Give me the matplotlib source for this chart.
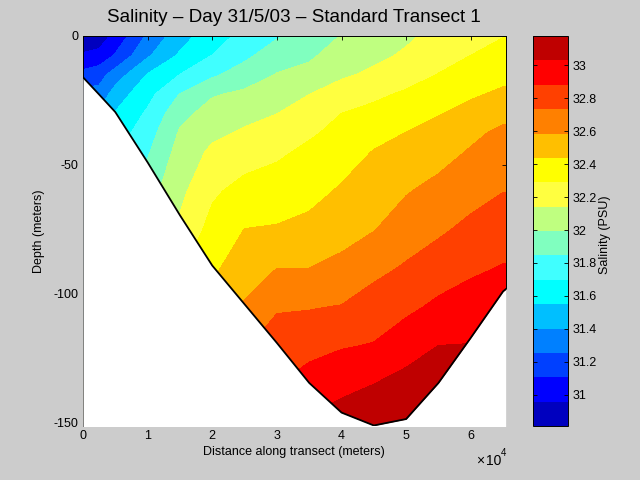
import numpy as np
import matplotlib
matplotlib.use('agg')
import matplotlib.pyplot as plt

plt.rcParams['font.family'] = ['Liberation Sans', 'DejaVu Sans']

GREY = '#CCCCCC'
W, H = 640.0, 480.0

distance = [0, 2500, 5000, 10000, 15000, 20000, 25000, 30000, 35000, 40000, 45000,
            50000, 55000, 60000, 65000, 65500]
depth = [0, -7.5, -15, -22.5, -30, -37.5, -45, -60, -75, -90, -105, -120, -135, -150, -165]
bottom = [-16, -22.7, -29.5, -49, -69.5, -89, -104, -119, -134.5, -146, -151,
          -148.5, -134.5, -117, -99, -98]

# one row per station (values under the sea bed only fill the grid)
salinity = [
    [30.83, 30.98, 31.15, 31.30, 31.40, 31.48, 31.55, 31.65, 31.75, 31.85, 31.95, 32.05, 32.15, 32.25, 32.35],
    [30.88, 31.00, 31.20, 31.30, 31.42, 31.52, 31.60, 31.70, 31.80, 31.90, 32.00, 32.10, 32.20, 32.30, 32.40],
    [31.00, 31.12, 31.32, 31.47, 31.56, 31.62, 31.68, 31.78, 31.88, 31.98, 32.08, 32.18, 32.28, 32.38, 32.48],
    [31.28, 31.38, 31.56, 31.65, 31.72, 31.78, 31.83, 31.93, 32.03, 32.13, 32.23, 32.33, 32.43, 32.53, 32.63],
    [31.49, 31.57, 31.70, 31.85, 31.95, 32.01, 32.05, 32.105, 32.17, 32.27, 32.37, 32.47, 32.57, 32.67, 32.77],
    [31.63, 31.70, 31.82, 31.98, 32.05, 32.11, 32.17, 32.265, 32.34, 32.41, 32.50, 32.60, 32.70, 32.80, 32.90],
    [31.74, 31.81, 31.92, 32.02, 32.10, 32.16, 32.22, 32.34, 32.44, 32.52, 32.60, 32.72, 32.82, 32.92, 33.02],
    [31.83, 31.93, 32.00, 32.07, 32.14, 32.20, 32.265, 32.36, 32.45, 32.586, 32.72, 32.80, 32.88, 32.98, 33.08],
    [31.91, 31.97, 32.04, 32.14, 32.205, 32.27, 32.32, 32.39, 32.48, 32.586, 32.725, 32.83, 32.95, 33.05, 33.15],
    [32.00, 32.06, 32.12, 32.21, 32.29, 32.33, 32.37, 32.455, 32.53, 32.625, 32.74, 32.87, 32.99, 33.10, 33.17],
    [32.06, 32.11, 32.17, 32.26, 32.33, 32.39, 32.445, 32.51, 32.58, 32.695, 32.80, 32.89, 33.03, 33.13, 33.17],
    [32.12, 32.16, 32.23, 32.31, 32.385, 32.44, 32.49, 32.575, 32.66, 32.75, 32.85, 32.965, 33.08, 33.16, 33.17],
    [32.18, 32.23, 32.295, 32.37, 32.43, 32.49, 32.53, 32.63, 32.71, 32.81, 32.91, 33.03, 33.12, 33.17, 33.17],
    [32.24, 32.29, 32.35, 32.42, 32.48, 32.55, 32.60, 32.68, 32.77, 32.86, 32.94, 33.035, 33.06, 33.10, 33.12],
    [32.285, 32.34, 32.40, 32.46, 32.54, 32.62, 32.65, 32.73, 32.82, 32.89, 32.96, 33.00, 33.02, 33.02, 33.02],
    [32.285, 32.34, 32.40, 32.46, 32.54, 32.62, 32.65, 32.73, 32.82, 32.89, 32.96, 33.00, 33.02, 33.02, 33.02],
]

levels = [30.81, 30.958, 31.106, 31.254, 31.402, 31.55, 31.698, 31.846, 31.994,
          32.142, 32.29, 32.438, 32.586, 32.734, 32.882, 33.03, 33.18]
band_colors = [(0, 0, .75), (0, 0, 1), (0, .25, 1), (0, .5, 1), (0, .75, 1), (0, 1, 1),
               (.25, 1, 1), (.5, 1, .75), (.75, 1, .5), (1, 1, .25), (1, 1, 0),
               (1, .75, 0), (1, .5, 0), (1, .25, 0), (1, 0, 0), (.75, 0, 0)]
cbar_ticks = [31, 31.2, 31.4, 31.6, 31.8, 32, 32.2, 32.4, 32.6, 32.8, 33]


def box(x0, y0, x1, y1):
    # pixel box (y from the top) to figure fractions
    return [x0 / W, 1 - y1 / H, (x1 - x0) / W, (y1 - y0) / H]


fig = plt.figure(figsize=(6.4, 4.8), dpi=100, facecolor=GREY)
ax = fig.add_axes(box(83, 36, 506, 426))

cs = ax.contourf(distance, depth, np.array(salinity).T, levels=levels, colors=band_colors)
ax.fill_between(distance, bottom, -200, color='white', zorder=3, lw=0)
ax.plot(distance, bottom, color='black', lw=1.3, zorder=4, solid_joinstyle='round')

ax.set_xlim(0, 65450)
ax.set_ylim(-151.2, 0)
ax.set_xticks([0, 10000, 20000, 30000, 40000, 50000, 60000])
ax.set_xticklabels(['0', '1', '2', '3', '4', '5', '6'])
ax.set_yticks([0, -50, -100, -150])
ax.set_yticklabels(['0', '-50', '-100', '-150'])
ax.tick_params(direction='in', length=3, width=0.6, top=True, right=True,
               labelsize=9, pad=3)
for s in ax.spines.values():
    s.set_linewidth(0.7)

fig.text(294 / W, 1 - 18 / H, 'Salinity \u2013 Day 31/5/03 \u2013 Standard Transect 1',
         fontsize=13.6, ha='center', va='center')
fig.text(294 / W, 1 - 452 / H, 'Distance along transect (meters)', fontsize=9,
         ha='center', va='center')
fig.text(39 / W, 1 - 231 / H, 'Depth (meters)', fontsize=9, rotation=90,
         ha='center', va='center')
fig.text(476 / W, 1 - 461 / H, '\u00d7', fontsize=10, ha='left', va='center')
fig.text(486 / W, 1 - 461 / H, '10', fontsize=10, ha='left', va='center')
fig.text(501 / W, 1 - 453 / H, '4', fontsize=7, ha='left', va='center')

cax = fig.add_axes(box(533, 36, 568, 426))
cb = fig.colorbar(cs, cax=cax, drawedges=False)
cb.set_ticks(cbar_ticks)
cb.set_ticklabels(['31', '31.2', '31.4', '31.6', '31.8', '32', '32.2', '32.4', '32.6', '32.8', '33'])
cax.tick_params(direction='in', length=3, width=0.6, left=True, right=True,
                labelsize=9, pad=3)
cax.minorticks_off()
cb.outline.set_linewidth(0.7)
fig.text(605 / W, 1 - 235 / H, 'Salinity (PSU)', fontsize=9, rotation=90,
         ha='center', va='center')

fig.savefig('out.png', dpi=100, facecolor=GREY)
